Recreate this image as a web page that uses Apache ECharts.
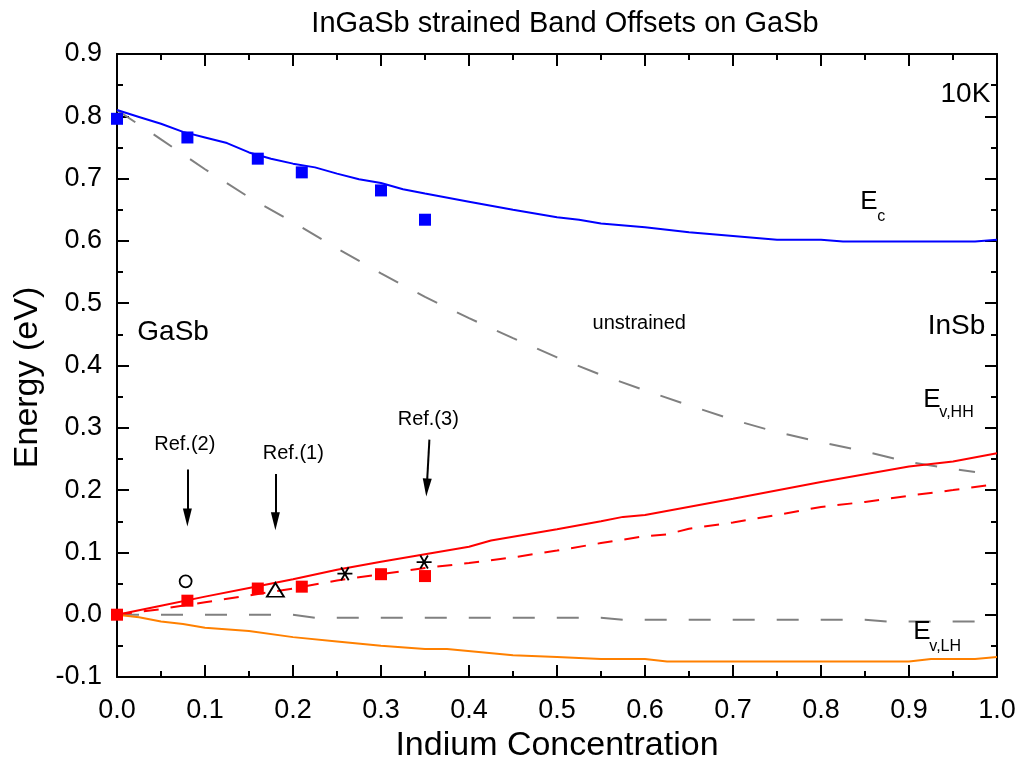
<!DOCTYPE html>
<html>
<head>
<meta charset="utf-8">
<script src="https://cdn.jsdelivr.net/npm/echarts@6/dist/echarts.min.js"></script>
<style>
  html, body { margin: 0; padding: 0; background: #fff; }
  #chart { width: 1024px; height: 774px; }
</style>
</head>
<body>
<div id="chart"></div>
<script>
// Indium concentration grid for each computed band edge
const ecX = [0, 0.025, 0.05, 0.075, 0.1, 0.125, 0.15, 0.175, 0.2, 0.225, 0.25, 0.275, 0.3, 0.325, 0.35, 0.4, 0.45, 0.5, 0.525, 0.55, 0.6, 0.65, 0.7, 0.75, 0.8, 0.825, 0.9, 0.975, 1.0];
const ecStrained = [0.810, 0.799, 0.788, 0.775, 0.766, 0.757, 0.742, 0.732, 0.724, 0.718, 0.708, 0.699, 0.693, 0.683, 0.676, 0.663, 0.650, 0.638, 0.634, 0.628, 0.622, 0.614, 0.608, 0.602, 0.602, 0.599, 0.599, 0.599, 0.602];

const unstrainedX = [0, 0.05, 0.1, 0.15, 0.2, 0.25, 0.3, 0.35, 0.4, 0.45, 0.5, 0.55, 0.6, 0.65, 0.7, 0.75, 0.8, 0.85, 0.9, 0.95, 0.975];
const ecUnstrained = [0.810, 0.763, 0.715, 0.670, 0.630, 0.588, 0.548, 0.510, 0.476, 0.444, 0.413, 0.385, 0.360, 0.336, 0.313, 0.293, 0.277, 0.262, 0.245, 0.234, 0.229];

const hhX = [0, 0.05, 0.1, 0.15, 0.2, 0.25, 0.3, 0.35, 0.4, 0.425, 0.5, 0.55, 0.575, 0.6, 0.7, 0.8, 0.9, 0.95, 1.0];
const evHH = [0, 0.0145, 0.029, 0.043, 0.057, 0.072, 0.085, 0.097, 0.109, 0.119, 0.137, 0.150, 0.157, 0.160, 0.186, 0.213, 0.238, 0.246, 0.259];

const hhAltX = [0, 0.05, 0.1, 0.15, 0.2, 0.25, 0.3, 0.35, 0.4, 0.45, 0.5, 0.55, 0.6, 0.625, 0.65, 0.7, 0.75, 0.8, 0.85, 0.9, 0.95, 1.0];
const evHHAlt = [0, 0.009, 0.020, 0.031, 0.042, 0.055, 0.065, 0.075, 0.083, 0.092, 0.103, 0.115, 0.126, 0.129, 0.138, 0.148, 0.160, 0.173, 0.181, 0.191, 0.200, 0.210];

const lhX = [0, 0.025, 0.05, 0.075, 0.1, 0.15, 0.2, 0.25, 0.3, 0.35, 0.375, 0.45, 0.5, 0.55, 0.6, 0.625, 0.9, 0.925, 0.975, 1.0];
const evLH = [0, -0.004, -0.011, -0.015, -0.021, -0.026, -0.036, -0.043, -0.050, -0.055, -0.055, -0.065, -0.068, -0.071, -0.071, -0.075, -0.075, -0.071, -0.071, -0.068];

const evUnstrainedX = [0, 0.2, 0.225, 0.55, 0.575, 0.85, 0.875, 0.975];
const evUnstrained = [0, 0, -0.005, -0.005, -0.008, -0.008, -0.011, -0.011];

// Measured points
const measX = [0, 0.08, 0.16, 0.21, 0.30, 0.35];
const measEc = [0.796, 0.766, 0.732, 0.710, 0.681, 0.634];
const measEv = [0.0, 0.0225, 0.042, 0.045, 0.065, 0.062];

const ref2Pts = [[0.078, 0.0535]];
const ref1Pts = [[0.18, 0.040]];
const ref3Pts = [[0.259, 0.0658], [0.349, 0.0845]];

// Axis ticks
const xTicks = [0, 0.1, 0.2, 0.3, 0.4, 0.5, 0.6, 0.7, 0.8, 0.9, 1.0];
const yTicks = [-0.1, 0, 0.1, 0.2, 0.3, 0.4, 0.5, 0.6, 0.7, 0.8, 0.9];

// Reference arrows: [x start, y start, x end, y end]
const arrows = [
  [0.08, 0.233, 0.08, 0.156],
  [0.18, 0.226, 0.18, 0.150],
  [0.355, 0.281, 0.352, 0.204]
];

// Text annotations: [text, x, y, fontSize, align]
const notes = [
  ['10K', 0.9924, 0.836, 28, 'right'],
  ['E', 0.8447, 0.662, 26, 'left'],
  ['c', 0.8640, 0.6395, 16, 'left'],
  ['GaSb', 0.0231, 0.4532, 28, 'left'],
  ['InSb', 0.9867, 0.4637, 28, 'right'],
  ['unstrained', 0.5935, 0.4669, 20, 'center'],
  ['E', 0.9163, 0.3457, 26, 'left'],
  ['v,HH', 0.9345, 0.3250, 16, 'left'],
  ['E', 0.9049, -0.0281, 26, 'left'],
  ['v,LH', 0.9231, -0.0504, 16, 'left'],
  ['Ref.(2)', 0.0770, 0.2734, 20, 'center'],
  ['Ref.(1)', 0.2003, 0.2580, 20, 'center'],
  ['Ref.(3)', 0.3537, 0.3141, 20, 'center']
];

const FONT = '"Liberation Sans", Arial, Helvetica, sans-serif';
const zip = (xs, ys) => xs.map((x, i) => [x, ys[i]]);

const chart = echarts.init(document.getElementById('chart'), null, { renderer: 'canvas' });

const frameAxis = (extra) => Object.assign({
  type: 'value',
  axisLine: { show: true, onZero: false, lineStyle: { color: '#000', width: 2 } },
  axisTick: { show: true, inside: true, length: 12, lineStyle: { color: '#000', width: 2 } },
  minorTick: { show: true, splitNumber: 2, length: 6, lineStyle: { color: '#000', width: 2 } },
  splitLine: { show: false },
  minorSplitLine: { show: false }
}, extra);

const curve = (name, xs, ys, color, type) => ({
  name, type: 'line', data: zip(xs, ys), showSymbol: false, symbol: 'none',
  lineStyle: { color, width: 2, type: type || 'solid' }, z: 2, silent: true
});

const hollow = (name, data, symbol, size) => ({
  name, type: 'scatter', data, symbol, symbolSize: size, symbolKeepAspect: true,
  itemStyle: { color: 'rgba(0,0,0,0)', borderColor: '#000', borderWidth: 1.8, opacity: 1 }, z: 5, silent: true
});

chart.setOption({
  animation: false,
  backgroundColor: '#fff',
  title: {
    text: 'InGaSb strained Band Offsets on GaSb',
    left: 560, top: 4, textAlign: 'center',
    textStyle: { fontFamily: FONT, fontSize: 29, fontWeight: 'normal', color: '#000' }
  },
  grid: { left: 117, right: 27, top: 54, bottom: 97 },
  xAxis: [
    frameAxis({
      position: 'bottom', min: xTicks[0], max: xTicks[xTicks.length - 1], interval: 0.1,
      name: 'Indium Concentration', nameLocation: 'middle', nameGap: 49,
      nameTextStyle: { fontFamily: FONT, fontSize: 34, color: '#000' },
      axisLabel: { show: true, margin: 20, fontFamily: FONT, fontSize: 27, color: '#000',
        formatter: v => v.toFixed(1) }
    }),
    frameAxis({ position: 'top', min: xTicks[0], max: xTicks[xTicks.length - 1], interval: 0.1,
      axisLabel: { show: false } })
  ],
  yAxis: [
    frameAxis({
      position: 'left', min: yTicks[0], max: yTicks[yTicks.length - 1], interval: 0.1,
      name: 'Energy (eV)', nameLocation: 'middle', nameGap: 72, nameRotate: 90,
      nameTextStyle: { fontFamily: FONT, fontSize: 34, color: '#000', padding: [0, 24, 0, 0] },
      axisLabel: { show: true, margin: 15, fontFamily: FONT, fontSize: 27, color: '#000',
        formatter: v => v.toFixed(1) }
    }),
    frameAxis({ position: 'right', min: yTicks[0], max: yTicks[yTicks.length - 1], interval: 0.1,
      axisLabel: { show: false } })
  ],
  series: [
    curve('Ec unstrained', unstrainedX, ecUnstrained, '#808080', [22, 22]),
    curve('Ev unstrained', evUnstrainedX, evUnstrained, '#808080', [22, 22]),
    curve('Ec', ecX, ecStrained, '#0000ff'),
    curve('Ev,HH', hhX, evHH, '#ff0000'),
    curve('Ev,HH alt', hhAltX, evHHAlt, '#ff0000', [15, 12]),
    curve('Ev,LH', lhX, evLH, '#ff8000'),
    {
      name: 'Ec measured', type: 'scatter', data: zip(measX, measEc), symbol: 'rect', symbolSize: 12,
      itemStyle: { color: '#0000ff', opacity: 1 }, z: 6, silent: true
    },
    {
      name: 'Ev measured', type: 'scatter', data: zip(measX, measEv), symbol: 'rect', symbolSize: 12,
      itemStyle: { color: '#ff0000', opacity: 1 }, z: 6, silent: true
    },
    hollow('Ref.(2)', ref2Pts, 'circle', 12),
    hollow('Ref.(1)', ref1Pts, 'triangle', [17, 14]),
    hollow('Ref.(3)', ref3Pts, 'path://M-10,0L10,0M-5,-8.66L5,8.66M-5,8.66L5,-8.66', 15),
    {
      name: 'arrows', type: 'line', data: [], silent: true,
      markLine: {
        silent: true, animation: false,
        symbol: ['none', 'path://M5,0L10,18L0,18Z'], symbolSize: [9, 18],
        label: { show: false },
        lineStyle: { color: '#000', width: 2, type: 'solid', opacity: 1 },
        emphasis: { disabled: true },
        data: arrows.map(a => [{ coord: [a[0], a[1]] }, { coord: [a[2], a[3]] }])
      }
    },
    {
      name: 'notes', type: 'scatter', symbolSize: 0, silent: true, z: 7,
      itemStyle: { opacity: 1 },
      data: notes.map(n => ({
        value: [n[1], n[2]],
        label: {
          show: true, formatter: n[0], position: [0, 0], align: n[4], verticalAlign: 'middle',
          fontFamily: FONT, fontSize: n[3], color: '#000', opacity: 1
        }
      }))
    }
  ]
});
</script>
</body>
</html>
